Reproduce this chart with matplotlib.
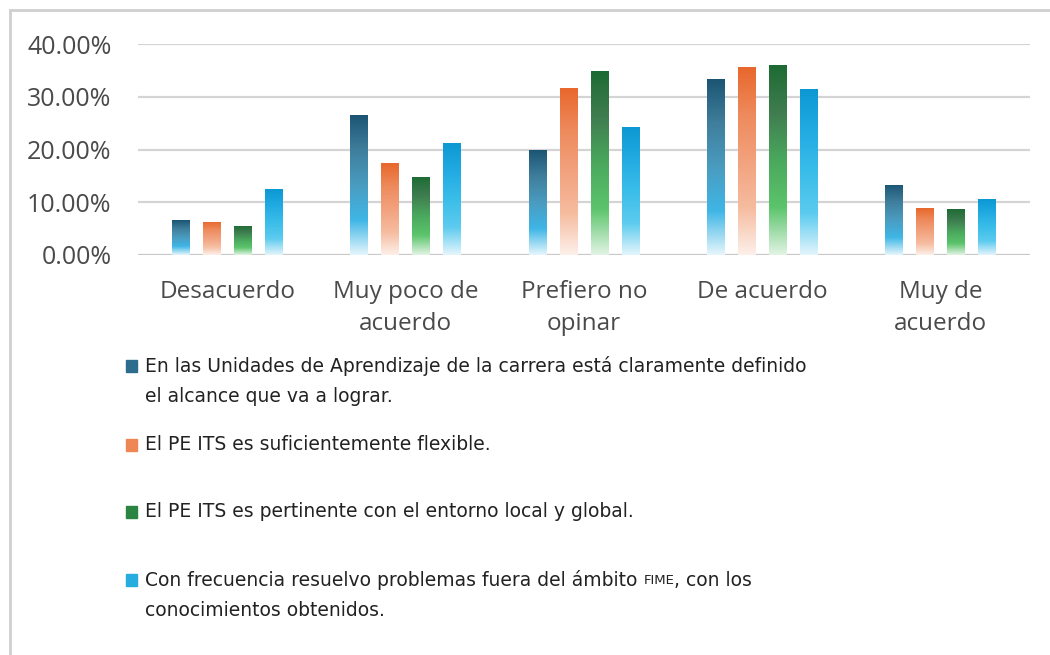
import matplotlib.pyplot as plt
import numpy as np
from matplotlib.colors import LinearSegmentedColormap
from matplotlib.patches import Rectangle

categories = ["Desacuerdo", "Muy poco de\nacuerdo", "Prefiero no\nopinar", "De acuerdo", "Muy de\nacuerdo"]
unidades = [6.6, 26.5, 19.9, 33.3, 13.3]
flexible = [6.3, 17.4, 31.6, 35.6, 8.9]
pertinente = [5.5, 14.8, 34.8, 36.0, 8.7]
frecuencia = [12.5, 21.2, 24.2, 31.4, 10.6]
series = [unidades, flexible, pertinente, frecuencia]

legend_labels = [
    "En las Unidades de Aprendizaje de la carrera está claramente definido\nel alcance que va a lograr.",
    "El PE ITS es suficientemente flexible.",
    "El PE ITS es pertinente con el entorno local y global.",
    None,  # built in pieces below (FIME in small caps)
]

# gradient stops, top -> bottom
grads = [
    ["#1c5574", "#3f7e9c", "#4a9cc0", "#3fb6e6", "#e6f6fc"],
    ["#e8672c", "#ee8a5c", "#f2a27e", "#f6bc9f", "#fdf0ea"],
    ["#1d6b33", "#3f7d50", "#4aa85d", "#5cc46c", "#e2f4e4"],
    ["#0c98d3", "#22abe2", "#3abde9", "#5ccbef", "#e4f5fc"],
]
solid = ["#2d6c8c", "#ee8656", "#2c8443", "#27acdf"]

fig = plt.figure(figsize=(10.5, 6.55), dpi=100)
W, H = 1050, 655
ax = fig.add_axes([138 / W, 1 - 255 / H, (1030 - 138) / W, (255 - 44) / H])

x = np.arange(len(categories))
bw = 0.10
step = 0.174
offsets = (np.arange(4) - 1.5) * step

for v in [10, 20, 30, 40]:
    ax.axhline(v, color="#d4d4d4", lw=1.6, zorder=0)
ax.axhline(0, color="#c8c8c8", lw=1.6, zorder=0)

for i, vals in enumerate(series):
    cmap = LinearSegmentedColormap.from_list(f"g{i}", grads[i])
    grad = np.linspace(0, 1, 256).reshape(-1, 1)
    for j, v in enumerate(vals):
        x0 = x[j] + offsets[i] - bw / 2
        im = ax.imshow(grad, cmap=cmap, aspect="auto", origin="upper",
                       extent=[x0, x0 + bw, 0, v], zorder=2, interpolation="bilinear")
        im.set_clip_path(Rectangle((x0, 0), bw, v, transform=ax.transData))

ax.set_xlim(-0.5, 4.5)
ax.set_ylim(0, 40)
ax.set_yticks([0, 10, 20, 30, 40])
ax.set_yticklabels([f"{v:.2f}%" for v in [0, 10, 20, 30, 40]])
ax.set_xticks(x)
ax.set_xticklabels(categories, fontsize=17.5, color="#4a4a4a", family="Open Sans", linespacing=1.42)
ax.tick_params(axis="x", length=0, pad=18)
ax.tick_params(axis="y", length=0, pad=19, labelsize=18, labelcolor="#4a4a4a")
for lab in ax.get_yticklabels():
    lab.set_family("Open Sans")
for s in ax.spines.values():
    s.set_visible(False)

# outer frame
fig.patches.append(Rectangle((10 / W, -0.1), 1.2, 1 - 10 / H + 0.1, transform=fig.transFigure,
                             fill=False, edgecolor="#cfcfcf", lw=2))

# legend
lfont = dict(family="DejaVu Sans", fontsize=13.5, color="#222222")
rows = [366, 445, 512, 580]
for i, yy in enumerate(rows):
    fig.patches.append(Rectangle((126 / W, 1 - (yy + 6) / H), 11 / W, 12 / H,
                                 transform=fig.transFigure, color=solid[i]))
    if legend_labels[i] is not None:
        fig.text(145 / W, 1 - (yy - 10) / H, legend_labels[i], va="top", ha="left",
                 linespacing=1.75, **lfont)

t1 = fig.text(145 / W, 1 - yy / H, "Con frecuencia resuelvo problemas fuera del ámbito ",
              va="center", ha="left", **lfont)
fig.canvas.draw()
r = fig.canvas.get_renderer()
e = t1.get_window_extent(r)
t2 = fig.text(e.x1 / W, 1 - yy / H, "FIME", va="center", ha="left",
              family="DejaVu Sans", fontsize=9.5, color="#222222")
e2 = t2.get_window_extent(r)
fig.text(e2.x1 / W, 1 - yy / H, ", con los", va="center", ha="left", **lfont)
fig.text(145 / W, 1 - 610 / H, "conocimientos obtenidos.", va="center", ha="left", **lfont)

fig.savefig("out.png", dpi=100)
